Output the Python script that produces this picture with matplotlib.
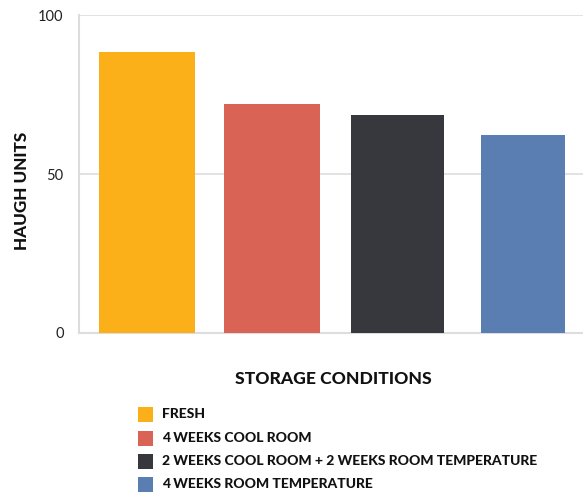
import matplotlib
matplotlib.use("Agg")
import matplotlib.pyplot as plt
from matplotlib.patches import Rectangle

categories = ["FRESH", "4 WEEKS COOL ROOM",
              "2 WEEKS COOL ROOM + 2 WEEKS ROOM TEMPERATURE",
              "4 WEEKS ROOM TEMPERATURE"]
haugh_units = [88.4, 71.9, 68.5, 62.2]
colors = ["#FBB01A", "#D96455", "#37383D", "#5A7DB2"]
y_ticks = [0, 50, 100]

W, H = 583, 494
fig = plt.figure(figsize=(W / 100, H / 100), dpi=100)
ax = fig.add_axes([79 / W, 1 - 333 / H, 1 - 79 / W, (333 - 15) / H])

x = list(range(len(categories)))
bar_widths = [0.765, 0.765, 0.74, 0.67]
ax.bar(x, haugh_units, width=bar_widths, color=colors, zorder=3)
ax.set_xlim(-0.54, 3.48)
ax.set_ylim(0, 100)
ax.set_yticks(y_ticks)
ax.set_yticklabels([str(t) for t in y_ticks], fontsize=10.5,
                   fontfamily="Lato", color="#222222")
ax.set_xticks([])
ax.tick_params(axis="y", length=0, pad=11)
ax.grid(axis="y", color="#DDDDDD", linewidth=1.2, zorder=0)
for side in ("top", "right"):
    ax.spines[side].set_visible(False)
for side in ("left", "bottom"):
    ax.spines[side].set_color("#DDDDDD")
    ax.spines[side].set_linewidth(1.5)

fig.text(22 / W, 1 - 191 / H, "HAUGH UNITS", rotation=90, ha="center",
         va="center", fontsize=12.3, fontweight="black", fontfamily="Lato",
         color="#111111")
fig.text(333 / W, 1 - 379 / H, "STORAGE CONDITIONS", ha="center",
         va="center", fontsize=12.6, fontweight="black", fontfamily="Lato",
         color="#111111")

# legend rows: colour swatch followed by the category name
row_y = [414, 438, 461, 484]
for name, col, yy in zip(categories, colors, row_y):
    fig.patches.append(Rectangle((138 / W, 1 - (yy + 8) / H), 15 / W, 15 / H,
                                 transform=fig.transFigure, facecolor=col,
                                 edgecolor="none"))
    fig.text(162 / W, 1 - yy / H, name, ha="left", va="center",
             fontsize=10, fontweight="black", fontfamily="Lato",
             color="#111111")

fig.savefig("out.png", dpi=100, facecolor="white")
